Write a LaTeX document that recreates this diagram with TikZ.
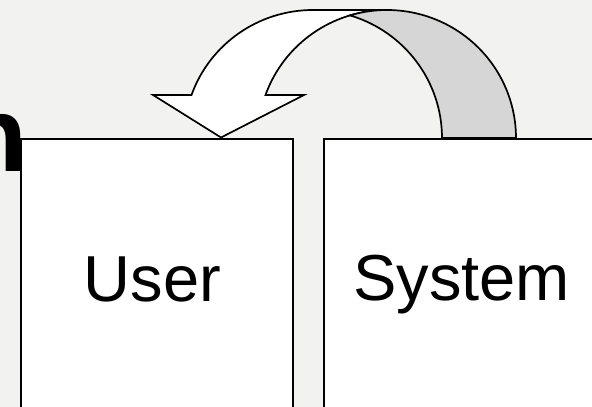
\documentclass[tikz,border=0pt]{standalone}
\usepackage{fontspec}
\setmainfont{Liberation Sans}
\usetikzlibrary{calc}
\definecolor{bgcol}{RGB}{242,243,241}
\definecolor{bandgray}{RGB}{214,214,214}
\begin{document}
\begin{tikzpicture}[x=1pt,y=1pt,
  box/.style={draw=black,line width=1.5pt,fill=white,anchor=north west,inner sep=0pt},
  lbl/.style={anchor=base,inner sep=0pt,font=\fontsize{65}{65}\selectfont},
  arrowpart/.style={draw=black,line width=1.7pt,line join=miter}]
\fill[bgcol] (0,0) rectangle (592,407);
\useasboundingbox (0,0) rectangle (592,407);
% partially hidden title letter
\node[anchor=base west,inner sep=0pt,font=\fontsize{106}{106}\bfseries\selectfont] (title) at (-38,235) {n};
% boxes
\node[box,minimum width=272pt,minimum height=280pt] (user) at (20,268.5) {};
\node[box,minimum width=280pt,minimum height=280pt] (system) at (323,268.5) {};
\node[lbl] (userlbl) at (152.5,105.5) {User};
\node[lbl] (systemlbl) at (461.5,106) {System};
% curved arrow (front band + head)
\coordinate (cA) at (387,269);
\coordinate (cB) at (313,269);
\draw[arrowpart,fill=white]
  (153,312) -- ($(cB)+(160.37:129 and 128)$)
  arc[start angle=160.37,end angle=90,x radius=129,y radius=128]
  -- (387,397)
  arc[start angle=90,end angle=160.37,x radius=129,y radius=128]
  -- (304,312) -- (221,269.5) -- cycle;
% back band
\draw[arrowpart,fill=bandgray]
  (516,269) arc[start angle=0,end angle=106.67,x radius=129,y radius=128]
  arc[start angle=73.33,end angle=0,x radius=129,y radius=128] -- cycle;
\end{tikzpicture}
\end{document}
